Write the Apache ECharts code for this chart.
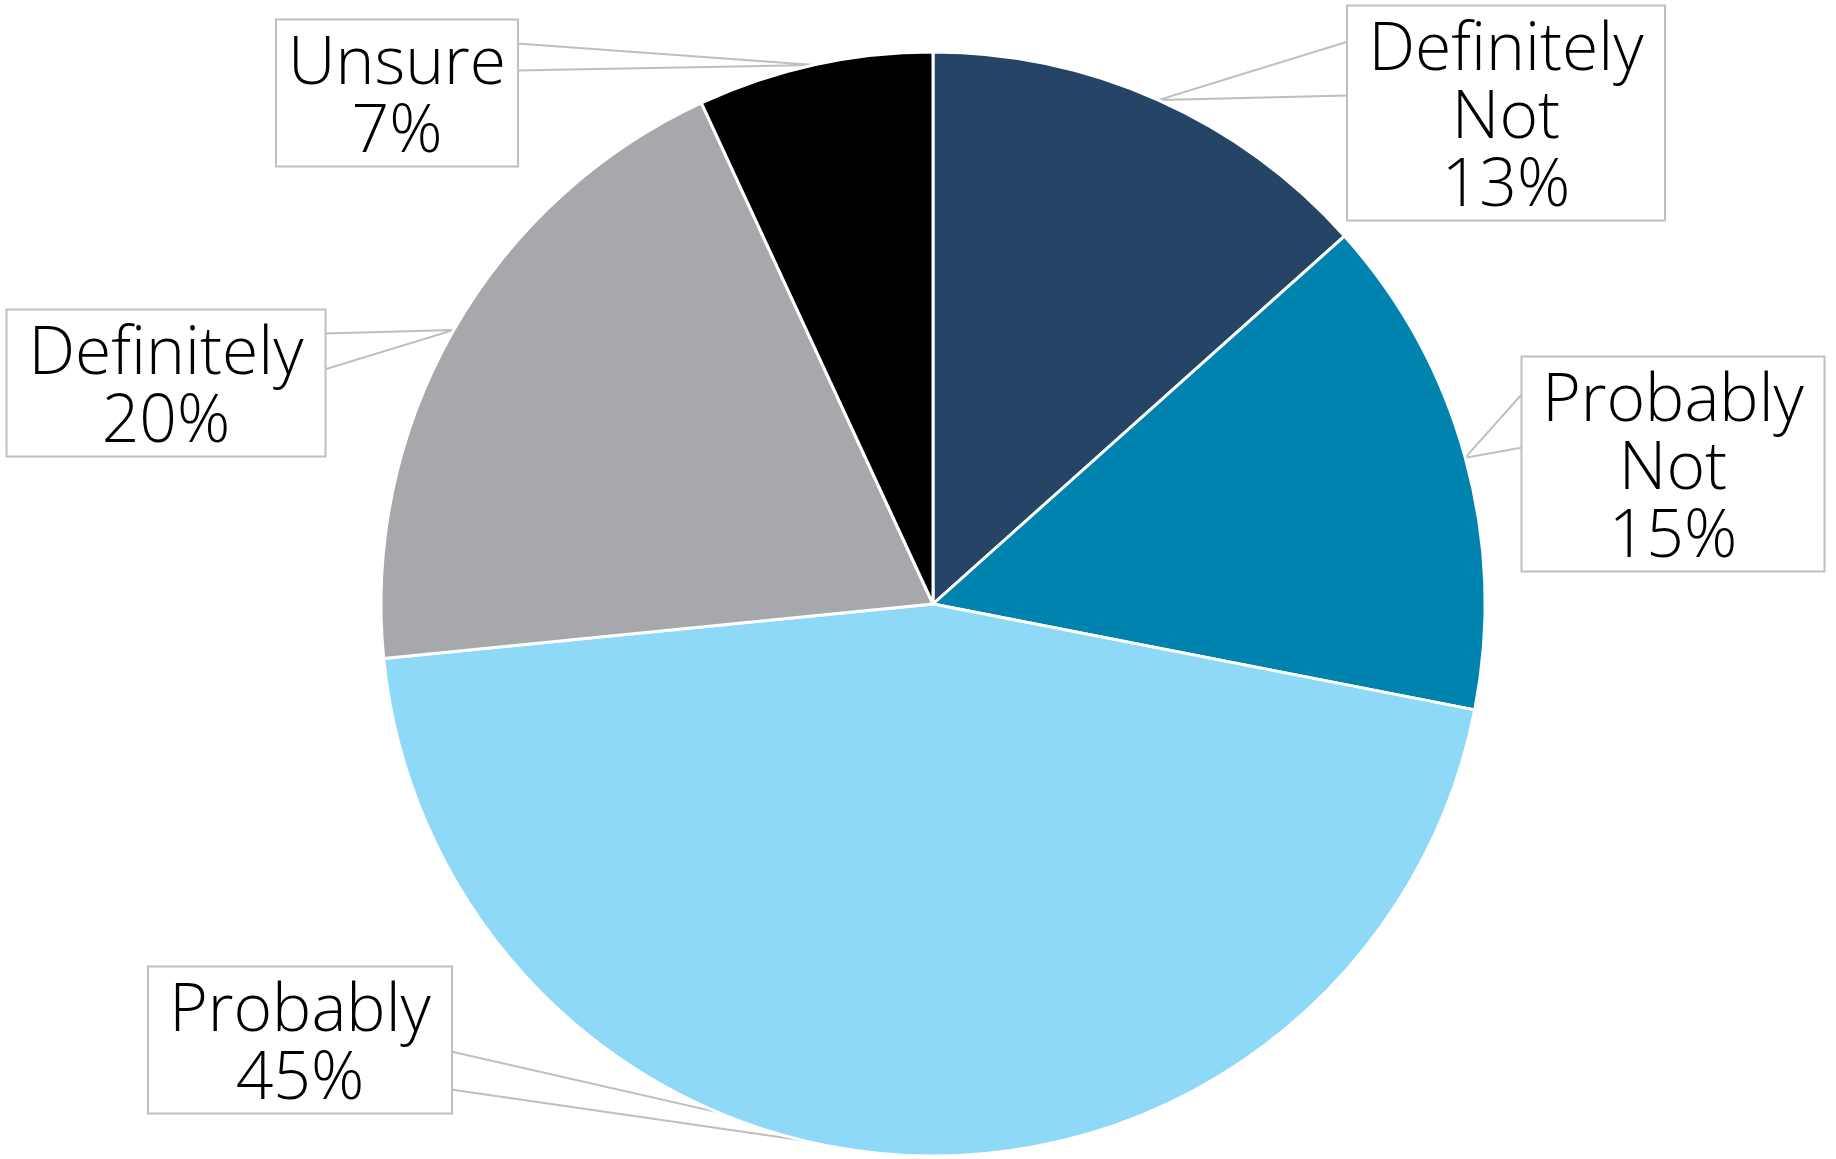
<!DOCTYPE html>
<html>
<head>
<meta charset="utf-8">
<script src="https://cdn.jsdelivr.net/npm/echarts@6/dist/echarts.min.js"></script>
<style>
html,body{margin:0;padding:0;background:#ffffff;}
#chart{width:1836px;height:1159px;}
</style>
</head>
<body>
<div id="chart"></div>
<script>
// ---- data ----
const categories = ['Definitely Not', 'Probably Not', 'Probably', 'Definitely', 'Unsure'];
const labelTexts = [['Definitely', 'Not'], ['Probably', 'Not'], ['Probably'], ['Definitely'], ['Unsure']];
const values = [13.4, 14.7, 45.4, 19.7, 6.9];
const colors = ['#264466', '#0083AE', '#8ED8F8', '#A7A8AB', '#000000'];

// ---- layout / style ----
const PIE_CENTER = [933, 604];
const PIE_RADIUS = 552;
const FONT_SIZE = 66;
const LINE_H = 68;
const TEXT_SHIFT = 3;          // push text down inside the box
const PAD = [8 + TEXT_SHIFT, 0, 1, 0];
// callout boxes: centre, width, and where the two pointer lines meet the box (px from top)
const boxLayout = [
  { cx: 1506, cy: 113, w: 316, anchors: [35, 89] },
  { cx: 1673, cy: 464, w: 301, anchors: [36, 90] },
  { cx: 300,  cy: 1040, w: 302, anchors: [84, 122] },
  { cx: 166,  cy: 383, w: 317, anchors: [23, 59] },
  { cx: 397,  cy: 93,  w: 240, anchors: [23, 50] }
];

const total = values.reduce((a, b) => a + b, 0);
function edgePoint(idx) {
  let before = 0;
  for (let i = 0; i < idx; i++) before += values[i];
  const mid = (before + values[idx] / 2) / total * Math.PI * 2;
  return [PIE_CENTER[0] + PIE_RADIUS * Math.sin(mid), PIE_CENTER[1] - PIE_RADIUS * Math.cos(mid)];
}
function lineCount(i) { return labelTexts[i].length + 1; }
function boxHeight(i) { return lineCount(i) * LINE_H - TEXT_SHIFT + PAD[0] + PAD[2]; }

const data = categories.map((name, i) => ({
  name: name,
  value: values[i],
  itemStyle: { color: colors[i] },
  label: { width: boxLayout[i].w, height: lineCount(i) * LINE_H - TEXT_SHIFT }
}));

const chart = echarts.init(document.getElementById('chart'), null, { renderer: 'canvas' });
chart.setOption({
  animation: false,
  backgroundColor: '#ffffff',
  series: [{
    type: 'pie',
    center: PIE_CENTER,
    radius: PIE_RADIUS,
    startAngle: 90,
    clockwise: true,
    avoidLabelOverlap: false,
    silent: true,
    itemStyle: { borderColor: '#ffffff', borderWidth: 3 },
    label: {
      show: true,
      position: 'outside',
      formatter: function (p) {
        return labelTexts[p.dataIndex].join('\n') + '\n' + Math.round(p.value) + '%';
      },
      fontFamily: '"Open Sans", "Lato", sans-serif',
      fontWeight: 300,
      fontSize: FONT_SIZE,
      lineHeight: LINE_H,
      color: '#000000',
      align: 'center',
      backgroundColor: '#ffffff',
      borderColor: '#BFBFBF',
      borderWidth: 2,
      padding: PAD
    },
    labelLine: {
      show: true,
      length: 10,
      length2: 10,
      lineStyle: { color: '#BFBFBF', width: 2 }
    },
    labelLayout: function (params) {
      const i = params.dataIndex;
      const b = boxLayout[i];
      const h = boxHeight(i);
      const top = b.cy - h / 2;
      const tip = (params.labelLinePoints && params.labelLinePoints[0]) ? params.labelLinePoints[0] : edgePoint(i);
      const edgeX = tip[0] > b.cx ? b.cx + b.w / 2 : b.cx - b.w / 2;
      return {
        x: b.cx,
        y: top,
        align: 'center',
        verticalAlign: 'top',
        labelLinePoints: [[edgeX, top + b.anchors[0]], [tip[0], tip[1]], [edgeX, top + b.anchors[1]]]
      };
    },
    data: data
  }]
});
</script>
</body>
</html>
